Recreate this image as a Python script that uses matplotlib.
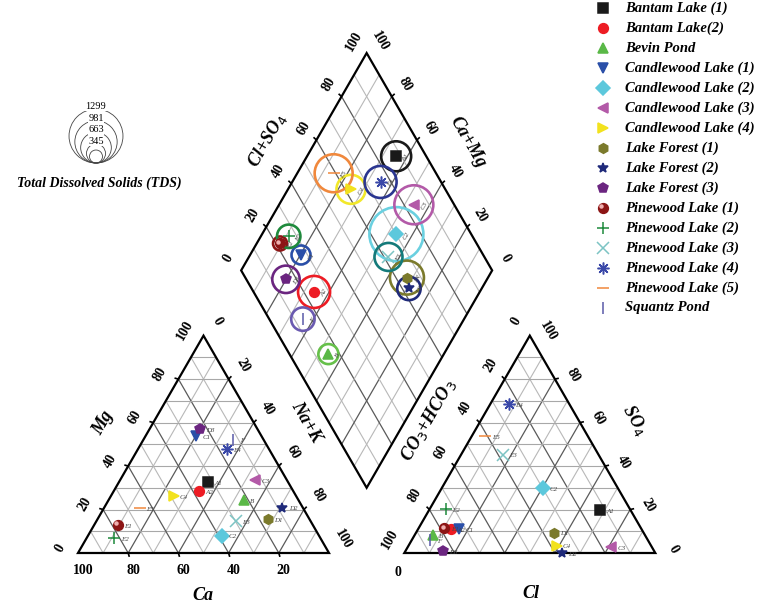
import numpy as np
import matplotlib.pyplot as plt
from matplotlib.patches import Circle, Polygon
from matplotlib.transforms import offset_copy

plt.rcParams['font.family'] = ['Liberation Serif', 'DejaVu Serif']

# samples (percent of meq/L)
codes = ["A1", "A2", "B", "C1", "C2", "C3", "C4", "D1", "D2", "D3",
         "E1", "E2", "E3", "E4", "E5", "F"]
sites = ["Bantam Lake (1)", "Bantam Lake(2)", "Bevin Pond", "Candlewood Lake (1)",
         "Candlewood Lake (2)", "Candlewood Lake (3)", "Candlewood Lake (4)",
         "Lake Forest (1)", "Lake Forest (2)", "Lake Forest (3)",
         "Pinewood Lake (1)", "Pinewood Lake (2)", "Pinewood Lake (3)",
         "Pinewood Lake (4)", "Pinewood Lake (5)", "Squantz Pond"]
ca = [32.0, 37.7, 21.8, 26.0, 38.5, 12.6, 48.9, 16.7, 8.1, 23.0,
      77.8, 82.1, 29.9, 16.8, 64.9, 12.0]
mg = [32.5, 28.3, 24.2, 53.7, 8.0, 33.7, 26.0, 15.6, 20.9, 57.1,
      12.9, 6.8, 14.5, 48.0, 20.6, 52.2]
cl = [68.1, 13.2, 7.2, 16.5, 40.3, 81.0, 59.0, 55.0, 62.7, 14.9,
      10.3, 6.6, 16.5, 7.5, 5.5, 7.4]
so4 = [19.9, 10.9, 8.3, 10.9, 29.9, 2.9, 3.4, 9.4, 0.0, 0.9,
       11.4, 20.2, 45.3, 68.4, 53.7, 6.0]
tds = [645, 700, 372, 344, 1300, 890, 617, 754, 464, 574,
       208, 464, 590, 700, 863, 464]

tds_legend = [345, 663, 981, 1299]
tds_min = 180

markers = ['s', 'o', '^', 'v', 'D', '<', '>', 'h', '*', 'p', 'o', '+', 'x',
           (8, 2, 0), '_', '|']
colors = ['#1a1a1a', '#ed1c24', '#5ab847', '#2a4fa8', '#5cc8dc', '#b35aa8',
          '#f2e21e', '#7b7a2c', '#1f2a7a', '#6b2580', '#8c1515', '#1e8a3c',
          '#7cc4c4', '#3a48a8', '#f0883c', '#5a5aa8']
ring_colors = ['#1a1a1a', '#ed1c24', '#66c04a', '#2a4fa8', '#6ad0e0', '#b35aa8',
               '#f2e82a', '#7b7a2c', '#1f2a7a', '#6b2580', '#8c1515', '#1e8a3c',
               '#147a7a', '#2a3590', '#f0883c', '#6a5ab0']

H = np.sqrt(3) / 2
OFF = 130.0                    # x of the anion triangle's left corner
XB, YB = 50 + OFF / 2, (OFF - 100) / 2 * np.sqrt(3)

SC, X0, Y0 = 2.51, 78, 553     # pixels per unit, origin in pixels


def px(x, y):
    return (x - X0) / SC, (Y0 - y) / SC


def pxv(dx, dy):
    return dx / SC, -dy / SC


def cation_xy(c, m):
    c = np.asarray(c, float)
    m = np.asarray(m, float)
    return 100 - c - m / 2, m * H


def anion_xy(c, s):
    c = np.asarray(c, float)
    s = np.asarray(s, float)
    return OFF + c + s / 2, s * H


def diamond_xy(camg, clso4):
    camg = np.asarray(camg, float)
    clso4 = np.asarray(clso4, float)
    return XB + (clso4 - camg) / 2, YB + (clso4 + camg) * H


def ring_r(t):
    return (3.2 + 0.0183 * np.asarray(t, float)) / SC


fig = plt.figure(figsize=(7.66, 6.05), dpi=100)
ax = fig.add_axes([0, 0, 1, 1])
ax.set_xlim(px(0, 0)[0], px(766, 0)[0])
ax.set_ylim(px(0, 605)[1], px(0, 0)[1])
ax.axis('off')

MAJ = dict(color='#5a5a5a', lw=0.9, zorder=1)
MIN = dict(color='#b8b8b8', lw=0.8, zorder=1)
HOR = dict(color='#a8a8a8', lw=0.8, zorder=1)


def seg(p, q, **kw):
    ax.plot([p[0], q[0]], [p[1], q[1]], solid_capstyle='butt', **kw)


# grids
for v in range(10, 100, 10):
    st = MAJ if v % 20 == 0 else MIN
    # cation triangle
    seg(cation_xy(100 - v, v), cation_xy(0, v), **HOR)
    seg(cation_xy(v, 0), cation_xy(v, 100 - v), **st)
    seg(cation_xy(100 - v, 0), cation_xy(0, 100 - v), **st)
    # anion triangle
    seg(anion_xy(0, v), anion_xy(100 - v, v), **HOR)
    seg(anion_xy(v, 0), anion_xy(v, 100 - v), **st)
    seg(anion_xy(100 - v, 0), anion_xy(0, 100 - v), **st)
    # diamond
    seg(diamond_xy(v, 0), diamond_xy(v, 100), **st)
    seg(diamond_xy(0, v), diamond_xy(100, v), **st)

# outlines
for pts in ([cation_xy(100, 0), cation_xy(0, 0), cation_xy(0, 100)],
            [anion_xy(0, 0), anion_xy(100, 0), anion_xy(0, 100)],
            [diamond_xy(0, 0), diamond_xy(100, 0), diamond_xy(100, 100), diamond_xy(0, 100)]):
    ax.add_patch(Polygon(pts, closed=True, fill=False, ec='black', lw=1.6, zorder=2))

# ticks and tick labels
TK = dict(fontsize=10, fontweight='bold', ha='center', va='center', zorder=5)
axes_def = [
    (lambda v: cation_xy(100 - v, v), range(0, 101, 20), (-18, -5), 60),
    (lambda v: cation_xy(0, 100 - v), range(0, 101, 20), (14, -14), -60),
    (lambda v: cation_xy(v, 0), range(20, 101, 20), (5, 17), 0),
    (lambda v: anion_xy(0, 100 - v), range(0, 101, 20), (-14, -14), 60),
    (lambda v: anion_xy(100 - v, v), range(0, 101, 20), (18, -4), -60),
    (lambda v: anion_xy(v, 0), [0], (-6, 19), 0),
    (lambda v: diamond_xy(100, v), range(0, 101, 20), (-13, -12), 60),
    (lambda v: diamond_xy(v, 100), range(0, 101, 20), (13, -12), -60),
]
for f, vals, off, rot in axes_def:
    dx, dy = pxv(*off)
    n = np.hypot(dx, dy)
    for v in vals:
        x, y = f(v)
        if 0 < v < 100:
            seg((x, y), (x + dx / n * 1.6, y + dy / n * 1.6), color='black', lw=1.2, zorder=2)
        ax.text(x + dx, y + dy, str(v), rotation=rot, **TK)

# axis titles
TT = dict(fontsize=13, fontweight='bold', fontstyle='italic', ha='center', va='center')
ax.text(*px(203, 596), 'Ca', **TT)
ax.text(*px(103, 423), 'Mg', rotation=60, **TT)
ax.text(*px(306, 422), 'Na+K', rotation=-60, **TT)
ax.text(*px(531, 594), 'Cl', **TT)
ax.text(*px(428, 420), r'CO$_3$+HCO$_3$', rotation=60, **TT)
ax.text(*px(635, 420), r'SO$_4$', rotation=-60, **TT)
ax.text(*px(267, 140), r'Cl+SO$_4$', rotation=60, **TT)
ax.text(*px(468, 142), 'Ca+Mg', rotation=-60, **TT)

# data points
cx, cy = cation_xy(ca, mg)
ax_, ay = anion_xy(cl, so4)
dxs, dys = diamond_xy(np.add(ca, mg), np.add(cl, so4))
lab_tr = offset_copy(ax.transData, fig=fig, x=4.5, y=-1, units='points')
hi_tr = offset_copy(ax.transData, fig=fig, x=-1.2, y=1.2, units='points')
LB = dict(fontsize=5, fontstyle='italic', color='#444444', va='center', zorder=6)

for i in range(len(codes)):
    mk = markers[i]
    line_mk = mk in ('+', 'x', '_', '|') or isinstance(mk, tuple)
    ms = 8.5 if line_mk else 7
    for x, y in ((cx[i], cy[i]), (ax_[i], ay[i]), (dxs[i], dys[i])):
        ax.plot(x, y, marker=mk, color=colors[i], ms=ms, mew=1.1, ls='none', zorder=4)
        if codes[i] == 'E1':
            ax.plot(x, y, marker='o', color='#f0b0b0', ms=2.2, ls='none', zorder=4.5,
                    transform=hi_tr)
    ax.text(cx[i], cy[i], codes[i], transform=lab_tr, **LB)
    ax.text(ax_[i], ay[i], codes[i], transform=lab_tr, **LB)
    ax.text(dxs[i], dys[i], codes[i], transform=lab_tr, rotation=60, **LB)
    ax.add_patch(Circle((dxs[i], dys[i]), ring_r(tds[i]), fill=False,
                        ec=ring_colors[i], lw=1.9, zorder=3))

# TDS size legend
bx, by = px(96, 163)
for t in [tds_min] + tds_legend:
    r = ring_r(t)
    ax.add_patch(Circle((bx, by + r), r, fill=False, ec='#444444', lw=0.6, zorder=3))
    if t in tds_legend:
        ax.text(bx, by + 2 * r + 2.5 / SC, str(t), fontsize=7.5, ha='center',
                va='center', bbox=dict(fc='white', ec='none', pad=0.3))
ax.text(*px(99, 183), 'Total Dissolved Solids (TDS)', fontsize=10,
        fontweight='bold', fontstyle='italic', ha='center', va='center')

# sample legend
for i, name in enumerate(sites):
    mx, my = px(603, 8 + 20 * i)
    mk = markers[i]
    line_mk = mk in ('+', 'x', '_', '|') or isinstance(mk, tuple)
    ax.plot(mx, my, marker=mk, color=colors[i], ms=8.5 if line_mk else 7,
            mew=1.1, ls='none', zorder=4)
    if codes[i] == 'E1':
        ax.plot(mx, my, marker='o', color='#f0b0b0', ms=2.2, ls='none', zorder=4.5,
                transform=hi_tr)
    ax.text(*px(625, 8 + 20 * i), name, fontsize=10.5, fontweight='bold',
            fontstyle='italic', ha='left', va='center')

fig.savefig('out.png', dpi=100)
